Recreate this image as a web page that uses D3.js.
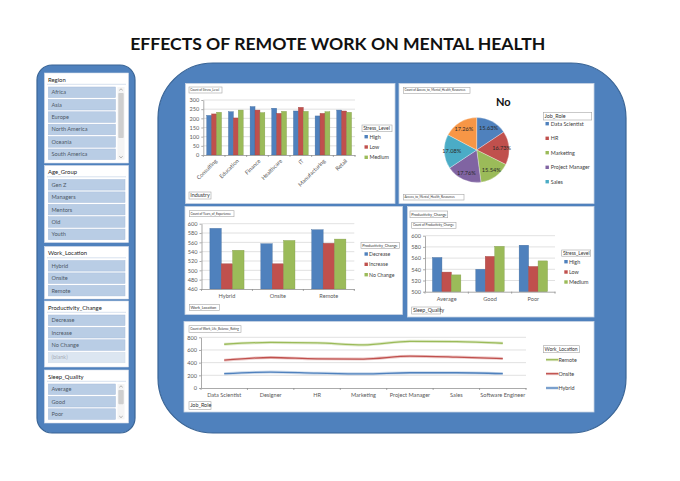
<!DOCTYPE html>
<html><head><meta charset="utf-8">
<script src="https://cdn.jsdelivr.net/npm/d3@7"></script>
<style>body{margin:0;background:#fff}svg{display:block}</style>
</head><body><svg id="c" width="680" height="481"></svg>
<script>
// ---------------- DATA ----------------
const industries = ["Consulting","Education","Finance","Healthcare","IT","Manufacturing","Retail"];
const stressLevels = ["High","Low","Medium"];
const stressHigh   = [216,236,264,255,240,213,245];
const stressLow    = [224,202,245,227,260,227,240];
const stressMedium = [233,245,231,238,238,236,233];
const stressTicks = [0,50,100,150,200,250,300];

const workLocations = ["Hybrid","Onsite","Remote"];
const productivityChanges = ["Decrease","Increase","No Change"];
const expDecrease = [590,557,587];
const expIncrease = [514,514,558];
const expNoChange = [543,564,567];
const expTicks = [460,480,500,520,540,560,580,600];

const sleepQualities = ["Average","Good","Poor"];
const prodHigh   = [561,540,583];
const prodLow    = [535,563,545];
const prodMedium = [530,581,555];
const prodTicks = [500,520,540,560,580,600];

const pieRoles  = ["Data Scientist","HR","Marketing","Project Manager","Sales","Software Engineer"];
const pieShares = [15.63,16.73,15.54,17.76,17.08,17.26];
const pieLegendRoles = ["Data Scientist","HR","Marketing","Project Manager","Sales"];

const jobRoles = ["Data Scientist","Designer","HR","Marketing","Project Manager","Sales","Software Engineer"];
const wlbRemote = [690,719,711,680,737,732,706];
const wlbOnsite = [439,481,460,457,502,488,465];
const wlbHybrid = [226,251,234,223,241,241,228];
const wlbTicks = [0,200,400,600,800];

const slicerTitles = ["Region","Age_Group","Work_Location","Productivity_Change","Sleep_Quality"];
const regionItems = ["Africa","Asia","Europe","North America","Oceania","South America"];
const ageItems = ["Gen Z","Managers","Mentors","Old","Youth"];
const locationItems = ["Hybrid","Onsite","Remote"];
const productivityItems = ["Decrease","Increase","No Change","(blank)"];
const sleepItems = ["Average","Good","Poor"];

// ---------------- STYLE ----------------
const svg = d3.select("#c");
const FONT = "Lato, 'Open Sans', sans-serif";
const COL = {blue:"#4F81BD", red:"#C0504D", green:"#9BBB59", purple:"#8064A2", teal:"#4BACC6", orange:"#F79646"};
const AXIS = "#868686", GRID = "#d9d9d9", LBL = "#595959";
svg.attr("font-family", FONT);

// Title
svg.append("text").attr("x",337.7).attr("y",50).attr("text-anchor","middle")
  .attr("font-weight",700).attr("font-size",17.6).attr("fill","#111")
  .text("EFFECTS OF REMOTE WORK ON MENTAL HEALTH");

// Blue backgrounds
svg.append("rect").attr("x",37).attr("y",65).attr("width",98).attr("height",368).attr("rx",15)
  .attr("fill",COL.blue).attr("stroke","#3A6596").attr("stroke-width",1.2);
svg.append("rect").attr("x",158).attr("y",63).attr("width",468).attr("height",370).attr("rx",55)
  .attr("fill",COL.blue).attr("stroke","#3A6596").attr("stroke-width",1.2);

// Panels
[[185.5,83.5,209.5,120],[399,83.5,195,120],[185,206.5,217.5,108],[407.5,206.5,186.5,110.5],[184,321.5,410,90.5]]
.forEach(p=>svg.append("rect").attr("x",p[0]).attr("y",p[1]).attr("width",p[2]).attr("height",p[3])
  .attr("fill","#fff").attr("stroke","#c9d4e4").attr("stroke-width",0.8));

function fieldBox(x,y,w,h,txt,fs){
  const g = svg.append("g");
  g.append("rect").attr("x",x).attr("y",y).attr("width",w).attr("height",h)
    .attr("fill","#fff").attr("stroke","#a6a6a6").attr("stroke-width",0.6);
  g.append("text").attr("x",x+1.2).attr("y",y+h/2).attr("dy","0.35em")
    .attr("font-size",fs).attr("fill","#333").text(txt);
}
function legendSquares(names, colors, sx, ys, tx, fs){
  names.forEach((n,i)=>{
    svg.append("rect").attr("x",sx).attr("y",ys[i]-1.7).attr("width",3.4).attr("height",3.4).attr("fill",colors[i]);
    svg.append("text").attr("x",tx).attr("y",ys[i]).attr("dy","0.35em").attr("font-size",fs).attr("fill","#404040").text(n);
  });
}

function barChart(o){
  const g = svg.append("g");
  const x = d3.scaleBand().domain(o.cats).range([o.x0,o.x1]);
  const pad = x.bandwidth()*(1-o.groupFrac)/2;
  const xs = d3.scaleBand().domain(o.seriesNames).range([pad, x.bandwidth()-pad]);
  const y = d3.scaleLinear().domain([o.ticks[0], o.ticks[o.ticks.length-1]]).range([o.y1,o.y0]);
  g.selectAll("line.grid").data(o.ticks.slice(1)).join("line")
    .attr("x1",o.x0).attr("x2",o.x1).attr("y1",d=>y(d)).attr("y2",d=>y(d))
    .attr("stroke",GRID).attr("stroke-width",0.8);
  const ya = g.append("g").attr("transform",`translate(${o.x0},0)`)
    .call(d3.axisLeft(y).tickValues(o.ticks).tickSize(2).tickSizeOuter(0).tickPadding(2));
  ya.select(".domain").attr("stroke",AXIS).attr("stroke-width",0.7);
  ya.selectAll(".tick line").attr("stroke",AXIS).attr("stroke-width",0.7);
  ya.selectAll("text").attr("font-size",5.6).attr("fill",LBL).attr("font-family",FONT);
  // bars
  o.series.forEach((vals,si)=>{
    g.selectAll(null).data(vals).join("rect")
      .attr("x",(v,i)=>x(o.cats[i])+xs(o.seriesNames[si])).attr("width",xs.bandwidth())
      .attr("y",v=>y(v)).attr("height",v=>y.range()[0]-y(v))
      .attr("fill",o.colors[si]).attr("stroke",d3.color(o.colors[si]).darker(0.5)).attr("stroke-width",0.4);
  });
  // x axis
  const xa = g.append("g").attr("transform",`translate(0,${o.y1})`)
    .call(d3.axisBottom(x).tickSize(0).tickPadding(o.xPad||5));
  xa.select(".domain").attr("stroke",AXIS).attr("stroke-width",0.7);
  xa.selectAll("text").attr("font-size",5.6).attr("fill",LBL).attr("font-family",FONT);
  if(o.rotate){
    xa.selectAll("text").attr("text-anchor","end").attr("y",0).attr("dy","0.35em")
      .attr("transform","translate(2,5) rotate(-45)");
  }
  g.selectAll("line.ct").data(d3.range(o.cats.length+1)).join("line")
    .attr("x1",i=>o.x0+i*x.step()).attr("x2",i=>o.x0+i*x.step())
    .attr("y1",o.y1).attr("y2",o.y1+2).attr("stroke",AXIS).attr("stroke-width",0.7);
}

// ---- Panel 1: Stress by industry
fieldBox(189,87,33,6,"Count of Stress_Level",3.1);
barChart({cats:industries, seriesNames:stressLevels, series:[stressHigh,stressLow,stressMedium],
  colors:[COL.blue,COL.red,COL.green], x0:203.3, x1:355, y0:100, y1:155, ticks:stressTicks, groupFrac:0.68, rotate:true});
fieldBox(362,125,30,6.7,"Stress_Level",5);
legendSquares(stressLevels,[COL.blue,COL.red,COL.green],364.5,[136.7,147,157.3],369.5,5.4);
fieldBox(189,192,22,7,"Industry",5.4);

// ---- Panel 2: Pie
fieldBox(403.3,87.3,66.7,6,"Count of Access_to_Mental_Health_Resources",3);
svg.append("text").attr("x",503.3).attr("y",102).attr("dy","0.35em").attr("text-anchor","middle")
  .attr("font-size",11).attr("font-weight",700).attr("fill","#111").text("No");
const pieCols = [COL.blue,COL.red,COL.green,COL.purple,COL.teal,COL.orange];
const pieArcs = d3.pie().sort(null).value(d=>d)(pieShares);
const arcGen = d3.arc().innerRadius(0).outerRadius(32.5);
const lblArc = d3.arc().innerRadius(25).outerRadius(25);
const pg = svg.append("g").attr("transform","translate(476.7,150)");
pg.selectAll("path").data(pieArcs).join("path").attr("d",arcGen)
  .attr("fill",(d,i)=>pieCols[i]).attr("stroke","#fff").attr("stroke-width",0.3);
pg.selectAll("text").data(pieArcs).join("text")
  .attr("transform",d=>`translate(${lblArc.centroid(d)})`).attr("text-anchor","middle").attr("dy","0.35em")
  .attr("font-size",5.6).attr("fill","#2b2b2b").text(d=>d.data.toFixed(2)+"%");
fieldBox(543.3,112.3,48.4,7.7,"Job_Role",5.4);
legendSquares(pieLegendRoles,pieCols,545.5,[123.7,138.3,152.7,167.3,181.7],550.8,5.4);
fieldBox(403.3,194.3,60.7,5.7,"Access_to_Mental_Health_Resources",3.1);

// ---- Panel 3: Years of experience
fieldBox(189.3,210.7,44.7,6,"Count of Years_of_Experience",3.1);
barChart({cats:workLocations, seriesNames:productivityChanges, series:[expDecrease,expIncrease,expNoChange],
  colors:[COL.blue,COL.red,COL.green], x0:201.5, x1:354.3, y0:223.7, y1:289, ticks:expTicks, groupFrac:0.67, xPad:5});
fieldBox(361,242.3,38.3,6,"Productivity_Change",3.9);
legendSquares(productivityChanges,[COL.blue,COL.red,COL.green],364.5,[254,264.3,274.7],369,5.2);
fieldBox(189.3,304.3,30,6.4,"Work_Location",3.9);

// ---- Panel 4: Productivity by sleep
fieldBox(410,211,37.7,6.7,"Productivity_Change",3.9);
fieldBox(411.7,222.3,44.3,6,"Count of Productivity_Change",3.1);
barChart({cats:sleepQualities, seriesNames:stressLevels, series:[prodHigh,prodLow,prodMedium],
  colors:[COL.blue,COL.red,COL.green], x0:425, x1:555, y0:235.7, y1:291.7, ticks:prodTicks, groupFrac:0.655, xPad:5});
fieldBox(561.7,250,29,6.2,"Stress_Level",5);
legendSquares(stressLevels,[COL.blue,COL.red,COL.green],564.3,[261.7,272,282],569,5.4);
fieldBox(411.7,307,29,7,"Sleep_Quality",5.2);

// ---- Panel 5: Line chart
fieldBox(189,325.7,52,6.6,"Count of Work_Life_Balance_Rating",3.1);
(function(){
  const g = svg.append("g");
  const x0=201, x1=526, y0=337.3, y1=388;
  const x = d3.scaleBand().domain(jobRoles).range([x0,x1]);
  const y = d3.scaleLinear().domain([0,800]).range([y1,y0]);
  g.selectAll("line.grid").data(wlbTicks.slice(1)).join("line")
    .attr("x1",x0).attr("x2",x1).attr("y1",d=>y(d)).attr("y2",d=>y(d)).attr("stroke",GRID).attr("stroke-width",0.8);
  const ya = g.append("g").attr("transform",`translate(${x0},0)`)
    .call(d3.axisLeft(y).tickValues(wlbTicks).tickSize(2).tickSizeOuter(0).tickPadding(2));
  ya.select(".domain").attr("stroke",AXIS).attr("stroke-width",0.7);
  ya.selectAll(".tick line").attr("stroke",AXIS).attr("stroke-width",0.7);
  ya.selectAll("text").attr("font-size",5.6).attr("fill",LBL).attr("font-family",FONT);
  const xa = g.append("g").attr("transform",`translate(0,${y1})`).call(d3.axisBottom(x).tickSize(0).tickPadding(5));
  xa.select(".domain").attr("stroke",AXIS).attr("stroke-width",0.7);
  xa.selectAll("text").attr("font-size",5.6).attr("fill",LBL).attr("font-family",FONT);
  g.selectAll("line.ct").data(d3.range(jobRoles.length+1)).join("line")
    .attr("x1",i=>x0+i*x.step()).attr("x2",i=>x0+i*x.step()).attr("y1",y1).attr("y2",y1+2)
    .attr("stroke",AXIS).attr("stroke-width",0.7);
  const line = d3.line().x((d,i)=>x(jobRoles[i])+x.bandwidth()/2).y(d=>y(d)).curve(d3.curveMonotoneX);
  [[wlbRemote,COL.green],[wlbOnsite,COL.red],[wlbHybrid,COL.blue]].forEach(([vals,c])=>{
    g.append("path").attr("d",line(vals)).attr("fill","none").attr("stroke",c).attr("stroke-width",3).attr("stroke-opacity",0.3);
    g.append("path").attr("d",line(vals)).attr("fill","none").attr("stroke",c).attr("stroke-width",1.3);
  });
  // legend
  const names = ["Remote","Onsite","Hybrid"], cols=[COL.green,COL.red,COL.blue], ys=[359.7,373.7,388];
  names.forEach((n,i)=>{
    svg.append("line").attr("x1",546).attr("x2",558.3).attr("y1",ys[i]).attr("y2",ys[i]).attr("stroke",cols[i]).attr("stroke-width",3).attr("stroke-opacity",0.3);
    svg.append("line").attr("x1",546).attr("x2",558.3).attr("y1",ys[i]).attr("y2",ys[i]).attr("stroke",cols[i]).attr("stroke-width",1.3);
    svg.append("text").attr("x",558.5).attr("y",ys[i]).attr("dy","0.35em").attr("font-size",5.4).attr("fill","#404040").text(n);
  });
})();
fieldBox(543.3,345.7,36,7,"Work_Location",5);
fieldBox(189,401.7,22,7.6,"Job_Role",5.4);

// ---------------- SLICERS ----------------
const slicerItems = [regionItems, ageItems, locationItems, productivityItems, sleepItems];
const slicerTops = [73,165.5,246.5,301,370];
const slicerBottoms = [163,242.5,299,367,423];
const slicerScroll = [true,false,false,false,true];
slicerTitles.forEach((t,si)=>{
  const top = slicerTops[si], bot = slicerBottoms[si];
  const g = svg.append("g");
  g.append("rect").attr("x",44.5).attr("y",top).attr("width",84).attr("height",bot-top)
    .attr("fill","#fff").attr("stroke","#d5dde9").attr("stroke-width",0.6);
  g.append("text").attr("x",48).attr("y",top+6.5).attr("dy","0.35em").attr("font-size",5.9).attr("fill","#222").text(t);
  g.append("line").attr("x1",47).attr("x2",126).attr("y1",top+11.3).attr("y2",top+11.3).attr("stroke","#c6d4e8").attr("stroke-width",0.7);
  const itemR = slicerScroll[si] ? 115.5 : 125;
  const yItem = d3.scalePoint().domain(slicerItems[si]).range([top+19.3, top+19.3+12.4*(slicerItems[si].length-1)]);
  slicerItems[si].forEach(it=>{
    const blank = it==="(blank)";
    g.append("rect").attr("x",48.3).attr("y",yItem(it)-5.3).attr("width",itemR-48.3).attr("height",10.6)
      .attr("fill",blank?"#dce6f1":"#b9cde5").attr("stroke",blank?"#d0dbe8":"#a7bddb").attr("stroke-width",0.5);
    g.append("text").attr("x",51.5).attr("y",yItem(it)).attr("dy","0.35em").attr("font-size",5.6)
      .attr("fill",blank?"#a4acb8":"#4d5866").text(it);
  });
  if(slicerScroll[si]){
    const first = yItem.range()[0]-5.3, last = yItem.range()[1]+5.3;
    g.append("rect").attr("x",117.5).attr("y",first).attr("width",7).attr("height",last-first).attr("fill","#f4f4f4");
    const h = last-first;
    g.append("rect").attr("x",118.3).attr("y",first+6).attr("width",5.4).attr("height",si===0? h*0.62 : h*0.4).attr("fill","#cfcfcf").attr("rx",0.8);
    g.append("path").attr("d",`M119.3,${first+3.3} L121,${first+1.8} L122.7,${first+3.3}`).attr("fill","none").attr("stroke","#666").attr("stroke-width",0.5);
    g.append("path").attr("d",`M119.3,${last-3.3} L121,${last-1.8} L122.7,${last-3.3}`).attr("fill","none").attr("stroke","#666").attr("stroke-width",0.5);
  }
});
</script></body></html>
